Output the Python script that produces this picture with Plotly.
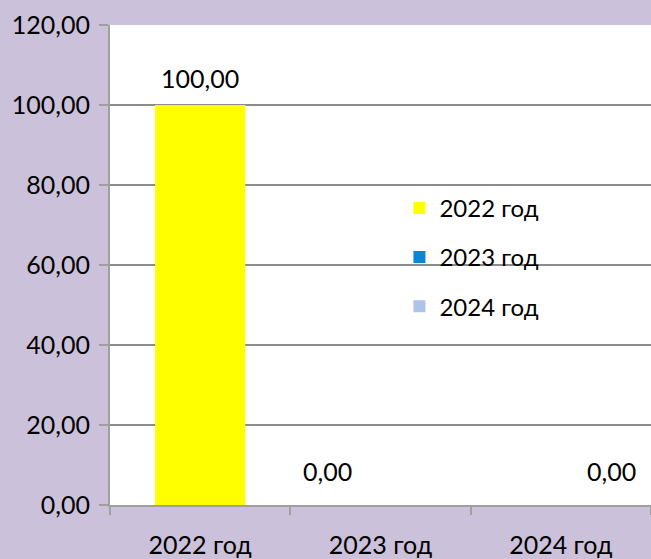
import plotly.graph_objects as go

# === Data ===
categories = ["2022 год", "2023 год", "2024 год"]
series_names = ["2022 год", "2023 год", "2024 год"]
values = [100.00, 0.00, 0.00]
value_labels = ["100,00", "0,00", "0,00"]
y_ticks = [0, 20, 40, 60, 80, 100, 120]
y_tick_labels = ["0,00", "20,00", "40,00", "60,00", "80,00", "100,00", "120,00"]

colors = ["#FFFF00", "#0A86D8", "#AFC2E8"]
label_shift = [(0, 27), (-53, 34), (51, 34)]

fig = go.Figure()
for i, name in enumerate(series_names):
    fig.add_trace(go.Bar(
        x=[categories[i]],
        y=[values[i]],
        name=name,
        width=0.5,
        marker=dict(color=colors[i], line=dict(width=0)),
        legendgroup=name,
        hoverinfo="skip",
    ))

# data labels
for i, txt in enumerate(value_labels):
    fig.add_annotation(
        x=categories[i], y=values[i], text=txt, showarrow=False,
        xshift=label_shift[i][0], yshift=label_shift[i][1],
        font=dict(size=25, color="#000000"),
    )

font = "Lato, Carlito, Calibri, sans-serif"
fig.update_layout(
    width=651, height=559,
    paper_bgcolor="#CCC1DA",
    plot_bgcolor="#FFFFFF",
    font=dict(family=font, size=25, color="#000000"),
    margin=dict(l=110, r=0, t=25, b=54),
    barmode="overlay",
    showlegend=True,
    legend=dict(
        x=0.535, y=0.665, xanchor="left", yanchor="top",
        bgcolor="rgba(0,0,0,0)",
        font=dict(size=24),
        tracegroupgap=15,
    ),
    xaxis=dict(
        categoryorder="array", categoryarray=categories,
        showline=True, linecolor="#A0A0A0", linewidth=2,
        ticks="outside", tickson="boundaries", ticklen=8, tickcolor="#A0A0A0", tickwidth=2,
        showgrid=False, ticklabelstandoff=17, automargin=False,
        range=[-0.5, 2.5],
    ),
    yaxis=dict(
        range=[0, 120], tickvals=y_ticks, ticktext=y_tick_labels,
        showline=True, linecolor="#A0A0A0", linewidth=2,
        ticks="outside", ticklen=9, tickcolor="#A0A0A0", tickwidth=2,
        showgrid=True, gridcolor="#8C8C8C", gridwidth=2,
        zeroline=False, ticklabelstandoff=4, automargin=False,
    ),
)

fig.write_html(
    "out.html",
    config={"displayModeBar": False},
    post_script="document.body.style.margin='0';document.body.style.background='#CCC1DA';",
)
